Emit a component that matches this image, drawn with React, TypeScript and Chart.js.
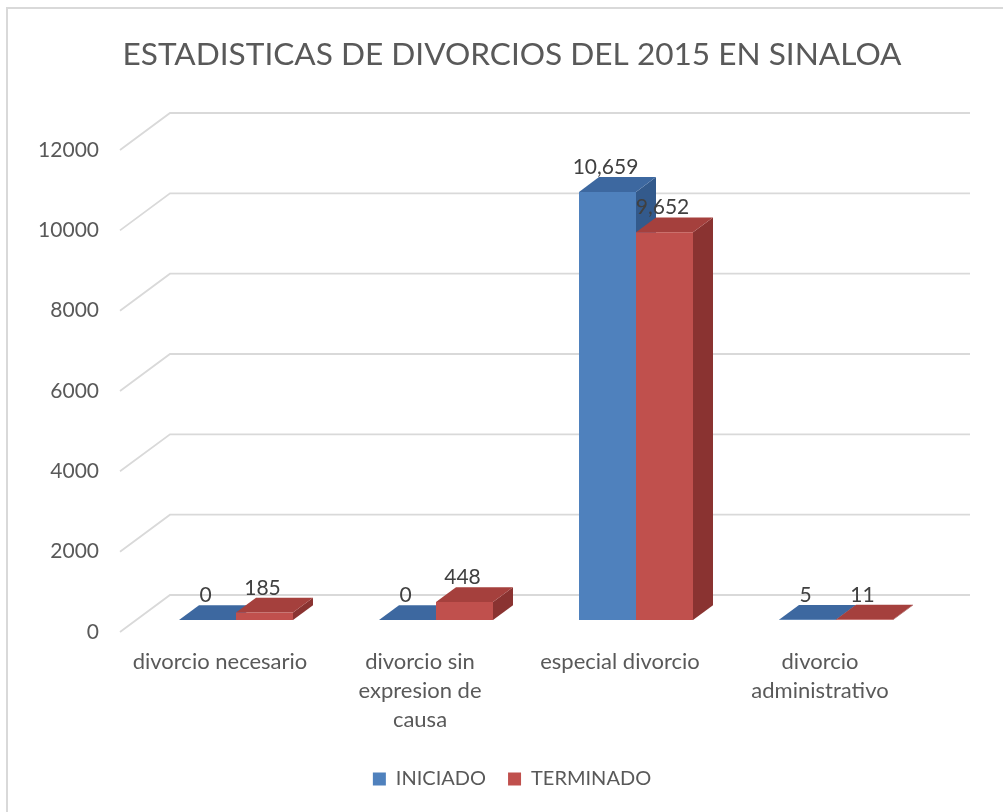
import React, { useEffect, useRef } from "react";
import { Chart, registerables } from "chart.js";

Chart.register(...registerables);

const titleText = "ESTADISTICAS DE DIVORCIOS DEL 2015 EN SINALOA";
const categories: string[][] = [
  ["divorcio necesario"],
  ["divorcio sin", "expresion de", "causa"],
  ["especial divorcio"],
  ["divorcio", "administrativo"],
];
const seriesNames = ["INICIADO", "TERMINADO"];
const iniciado = [0, 0, 10659, 5];
const terminado = [185, 448, 9652, 11];
const yMin = 0;
const yMax = 12000;
const yStep = 2000;

const frontColors = ["#4F81BD", "#C0504D"];
const topColors = ["#3D68A0", "#A5403D"];
const sideColors = ["#335A8C", "#8A3331"];

const FONT = "Lato, 'Open Sans', sans-serif";
const TEXT = "#595959";

// 3D projection offsets (relative to the bar front plane)
const BAR_DX = 20;
const BAR_DY = -14.8;
const FRONT_DX = -16;
const FRONT_DY = 12;
const BACK_DX = 34;
const BACK_DY = -25;

const fmt = (v: number) => v.toLocaleString("en-US");

const perspectivePlugin = {
  id: "perspective",
  beforeDatasetsDraw(chart: any) {
    const { ctx } = chart;
    const xs = chart.scales.x;
    const ys = chart.scales.y;
    ctx.save();
    ctx.strokeStyle = "#D9D9D9";
    ctx.lineWidth = 1.8;
    ys.ticks.forEach((t: any) => {
      const py = ys.getPixelForValue(t.value);
      ctx.beginPath();
      ctx.moveTo(xs.left + FRONT_DX, py + FRONT_DY);
      ctx.lineTo(xs.left + BACK_DX, py + BACK_DY);
      ctx.lineTo(xs.right + BACK_DX, py + BACK_DY);
      ctx.stroke();
    });
    const n = chart.data.labels.length;
    for (let i = 0; i < n; i++) {
      chart.data.datasets.forEach((_: any, d: number) => {
        const bar = chart.getDatasetMeta(d).data[i];
        const p = bar.getProps(["x", "y", "base", "width"], true);
        const l = p.x - p.width / 2;
        const r = p.x + p.width / 2;
        const top = Math.min(p.y, p.base);
        const base = Math.max(p.y, p.base);
        ctx.fillStyle = sideColors[d];
        ctx.beginPath();
        ctx.moveTo(r, top);
        ctx.lineTo(r + BAR_DX, top + BAR_DY);
        ctx.lineTo(r + BAR_DX, base + BAR_DY);
        ctx.lineTo(r, base);
        ctx.closePath();
        ctx.fill();
        ctx.fillStyle = topColors[d];
        ctx.beginPath();
        ctx.moveTo(l, top);
        ctx.lineTo(l + BAR_DX, top + BAR_DY);
        ctx.lineTo(r + BAR_DX, top + BAR_DY);
        ctx.lineTo(r, top);
        ctx.closePath();
        ctx.fill();
      });
    }
    ctx.restore();
  },
  afterDatasetsDraw(chart: any) {
    const { ctx } = chart;
    ctx.save();
    ctx.font = `21px ${FONT}`;
    ctx.fillStyle = "#404040";
    ctx.textAlign = "center";
    ctx.textBaseline = "middle";
    chart.data.datasets.forEach((ds: any, d: number) => {
      chart.getDatasetMeta(d).data.forEach((bar: any, i: number) => {
        const p = bar.getProps(["x", "y"], true);
        ctx.fillText(fmt(ds.data[i]), p.x - 2, p.y + BAR_DY - 10);
      });
    });
    ctx.restore();
  },
};

export default function App() {
  const ref = useRef<HTMLCanvasElement>(null);
  useEffect(() => {
    if (!ref.current) return;
    const chart = new Chart(ref.current, {
      type: "bar",
      data: {
        labels: categories,
        datasets: [
          { label: seriesNames[0], data: iniciado, backgroundColor: frontColors[0], borderWidth: 0 },
          { label: seriesNames[1], data: terminado, backgroundColor: frontColors[1], borderWidth: 0 },
        ],
      },
      options: {
        animation: false,
        responsive: false,
        devicePixelRatio: 1,
        datasets: { bar: { categoryPercentage: 0.57, barPercentage: 1 } },
        layout: { padding: { left: 88, right: 67, top: 0, bottom: 13 } },
        plugins: {
          tooltip: { enabled: false },
          title: {
            display: true,
            text: titleText,
            color: TEXT,
            font: { family: FONT, size: 31.6, weight: "normal", lineHeight: 1.2 },
            padding: { top: 36, bottom: 64.1 },
          },
          legend: {
            display: true,
            position: "bottom",
            labels: {
              color: TEXT,
              font: { family: FONT, size: 20 },
              boxWidth: 13,
              boxHeight: 13,
              padding: 22,
            },
          },
        },
        scales: {
          x: {
            grid: { display: false, drawTicks: false },
            border: { display: false },
            ticks: {
              color: TEXT,
              font: { family: FONT, size: 22, lineHeight: 1.32 },
              padding: 27.5,
              labelOffset: FRONT_DX,
              maxRotation: 0,
              autoSkip: false,
            },
            afterFit: (s: any) => {
              s.height = 127;
            },
          },
          y: {
            min: yMin,
            max: yMax,
            grid: { display: false, drawTicks: false },
            border: { display: false },
            ticks: {
              stepSize: yStep,
              color: TEXT,
              font: { family: FONT, size: 21 },
              padding: 37,
              labelOffset: FRONT_DY,
              callback: (v: any) => String(v),
            },
            afterFit: (s: any) => {
              s.width = 48;
              s._computeLabelArea = () => undefined;
            },
          },
        },
      },
      plugins: [perspectivePlugin],
    });
    return () => chart.destroy();
  }, []);
  return (
    <div style={{ position: "absolute", left: 0, top: 0, width: 1003, height: 812, background: "#fff" }}>
      <div
        style={{
          position: "absolute",
          left: 6,
          top: 7,
          width: 997,
          height: 805,
          borderLeft: "2px solid #D9D9D9",
          borderTop: "2px solid #D9D9D9",
          boxSizing: "border-box",
        }}
      />
      <canvas ref={ref} width={1003} height={812} style={{ position: "absolute", left: 0, top: 0, display: "block" }} />
    </div>
  );
}
